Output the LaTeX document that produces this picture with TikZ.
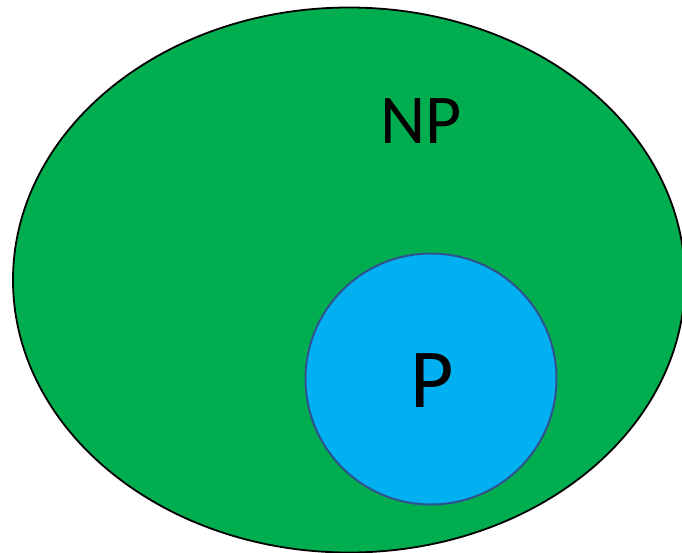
\documentclass[tikz,border=0pt]{standalone}
\usepackage{fontspec}
\setmainfont{Carlito}
\definecolor{npgreen}{HTML}{00AE4F}
\definecolor{pblue}{HTML}{00B0F0}
\definecolor{pborder}{HTML}{2F528F}
\begin{document}
\begin{tikzpicture}[x=1pt,y=-1pt]
\tikzset{
  setlabel/.style={text=black, inner sep=0pt, anchor=center},
}
\useasboundingbox (0,0) rectangle (682,552);
\begin{scope}
\clip (0,0) rectangle (682,552);
\fill[npgreen, draw=black, line width=1.8pt] (349,280) ellipse [x radius=336, y radius=272.5];
\end{scope}
\node[circle, fill=pblue, draw=pborder, line width=2pt, minimum size=251pt, inner sep=0pt] (p) at (431,379) {};
\node[setlabel, font=\fontsize{70}{70}\selectfont] (nplabel) at (421,121) {NP};
\node[setlabel, font=\fontsize{84}{84}\selectfont] (plabel) at (432,381) {P};
\end{tikzpicture}
\end{document}
